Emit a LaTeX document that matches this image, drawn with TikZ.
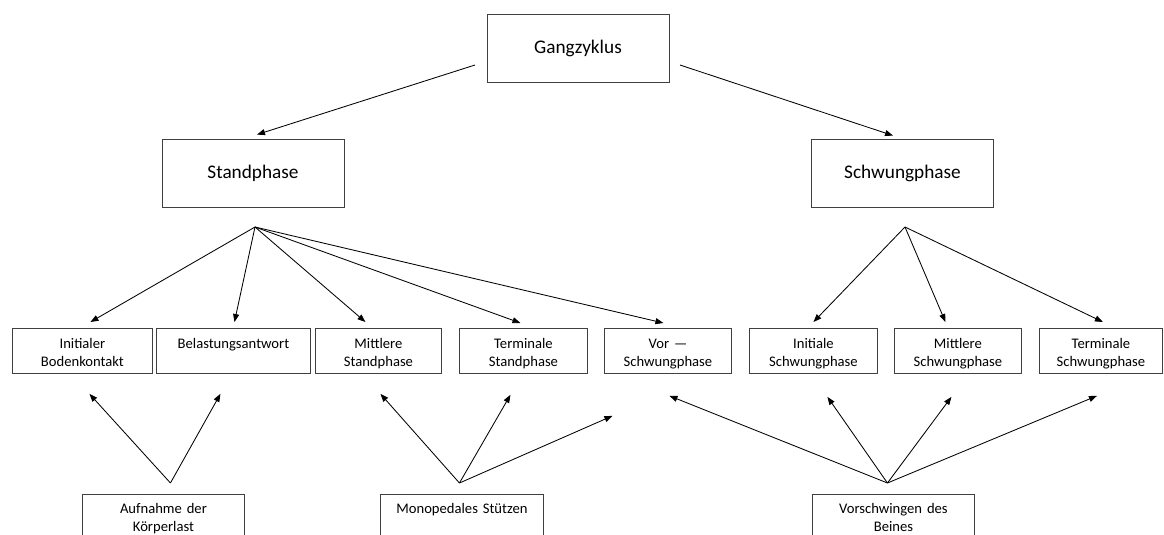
\documentclass[tikz,border=0pt]{standalone}
\usepackage{fontspec}
\setmainfont{Carlito}
\usetikzlibrary{arrows.meta,positioning,calc}
\tikzset
{
    bigbox/.style = {rectangle, draw=black!75, line width=0.6pt, minimum width=4.55cm, minimum height=1.7cm, align=center, font=\fontsize{13.7}{16}\selectfont},
    phase/.style  = {rectangle, draw=black!75, line width=0.6pt, anchor=north west, inner sep=0pt, align=center, text width=#1, text height=0.5cm, text depth=0.625cm, font=\fontsize{10.4}{12.8}\selectfont},
    task/.style   = {phase=#1, text height=0.475cm, text depth=0.65cm},
    arrow/.style  = {line width=0.6pt, -{Triangle[length=2mm,width=1.5mm]}},
}

\begin{document}
\begin{tikzpicture}[x=0.025cm, y=-0.025cm]
	\useasboundingbox (0,0) rectangle (1164,534);
	\clip (0,0) rectangle (1164,534);

	\node (gz)  [bigbox] at (578,48)    {Gangzyklus};
	\node (sp)  [bigbox] at (253,173)   {Standphase};
	\node (swp) [bigbox] at (902.5,173) {Schwungphase};

	\node (ib) [phase=3.5cm]   at (12,328)   {Initialer\\Bodenkontakt};
	\node (ba) [phase=3.85cm]  at (156,328)  {Belastungsantwort};
	\node (ms) [phase=3.15cm]  at (315,328)  {Mittlere\\Standphase};
	\node (ts) [phase=3.2cm]   at (459,328)  {Terminale\\Standphase};
	\node (vs) [phase=3.175cm] at (604,328)  {Vor —\\Schwungphase};
	\node (is) [phase=3.2cm]   at (749,328)  {Initiale\\Schwungphase};
	\node (mw) [phase=3.175cm] at (894,328)  {Mittlere\\Schwungphase};
	\node (tw) [phase=3.075cm] at (1039,328) {Terminale\\Schwungphase};

	\node (ak) [task=4.05cm]  at (82,494)  {Aufnahme der\\Körperlast};
	\node (mp) [task=4.075cm] at (380,494) {Monopedales Stützen};
	\node (vb) [task=4.05cm]  at (812,494) {Vorschwingen des\\Beines};

	\coordinate (gzL) at (475,65);
	\coordinate (gzR) at (680,65);
	\coordinate (spF) at (255,227);
	\coordinate (swF) at (905,227);
	\coordinate (akF) at ($(ak.north)+(7,-11)$);
	\coordinate (mpF) at ($(mp.north)+(-2.5,-11)$);
	\coordinate (vbF) at ($(vb.north)+(-6,-11)$);

	\draw [arrow] (gzL) -- ($(sp.north)+(4,-4)$);
	\draw [arrow] (gzR) -- ($(swp.north)+(-9.5,-3)$);

	\draw [arrow] (spF) -- ($(ib.north)+(8,-6)$);
	\draw [arrow] (spF) -- ($(ba.north)+(1,-6)$);
	\draw [arrow] (spF) -- ($(ms.north)+(-13,-6)$);
	\draw [arrow] (spF) -- ($(ts.north)+(-3,-5)$);
	\draw [arrow] (spF) -- ($(vs.north)+(-4.5,-5)$);

	\draw [arrow] (swF) -- ($(is.north)+(0,-6)$);
	\draw [arrow] (swF) -- ($(mw.north)+(-12.5,-6)$);
	\draw [arrow] (swF) -- ($(tw.north)+(2,-6)$);

	\draw [arrow] (akF) -- ($(ib.south)+(7,20)$);
	\draw [arrow] (akF) -- ($(ba.south)+(-13,20)$);
	\draw [arrow] (mpF) -- ($(ms.south)+(2,20)$);
	\draw [arrow] (mpF) -- ($(ts.south)+(-13,21)$);
	\draw [arrow] (mpF) -- ($(vs.south)+(-55.5,42)$);
	\draw [arrow] (vbF) -- ($(vs.south)+(1.5,22)$);
	\draw [arrow] (vbF) -- ($(is.south)+(14,23)$);
	\draw [arrow] (vbF) -- ($(mw.south)+(-6.5,23)$);
	\draw [arrow] (vbF) -- ($(tw.south)+(-4,22)$);
\end{tikzpicture}
\end{document}
